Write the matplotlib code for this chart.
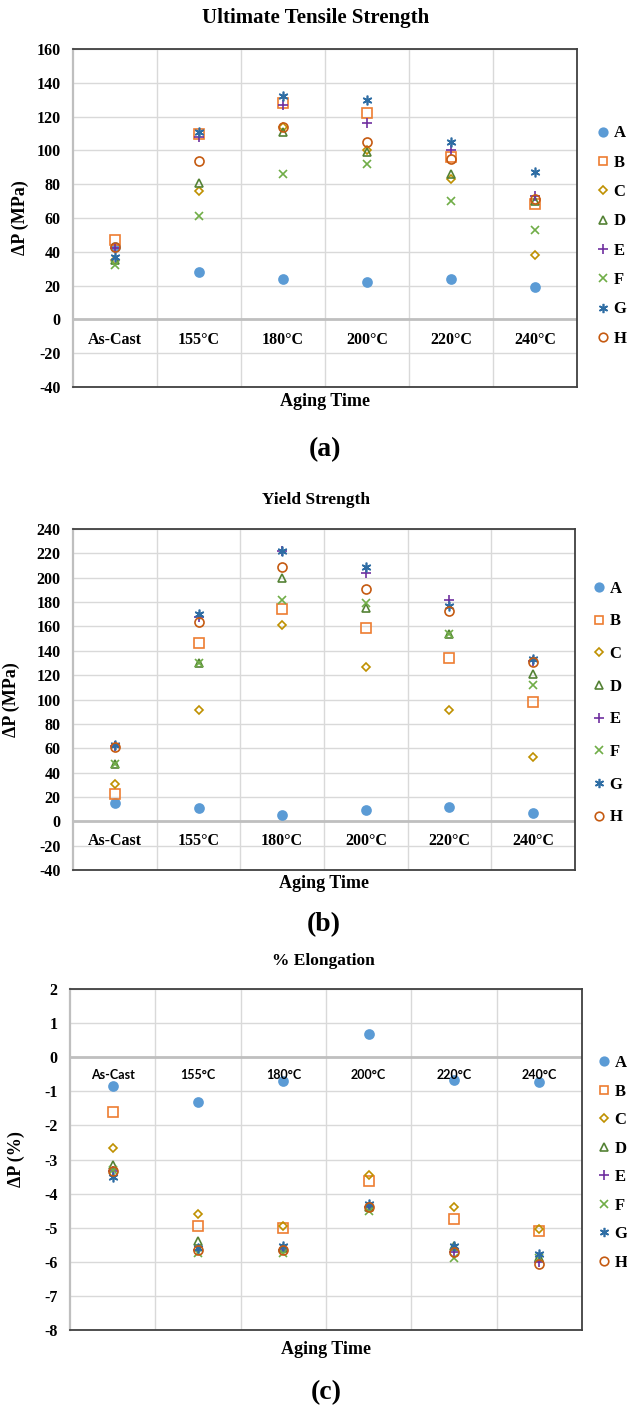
import matplotlib.pyplot as plt
import matplotlib.lines as mlines

categories = ['As-Cast', '155°C', '180°C', '200°C', '220°C', '240°C']
series = ['A', 'B', 'C', 'D', 'E', 'F', 'G', 'H']

# Ultimate Tensile Strength (MPa)
uts = {
    'A': [43, 28, 24, 22, 24, 19],
    'B': [47, 110, 128, 122, 96, 68],
    'C': [35, 76, 114, 100, 83, 38],
    'D': [35, 81, 111, 99, 86, 70],
    'E': [42, 108, 127, 116, 100, 73],
    'F': [32, 61, 86, 92, 70, 53],
    'G': [37, 111, 132, 130, 105, 87],
    'H': [43, 94, 114, 105, 95, 71],
}

# Yield Strength (MPa)
ys = {
    'A': [15, 11, 5, 9, 12, 7],
    'B': [22, 146, 174, 159, 134, 98],
    'C': [31, 91, 161, 127, 91, 53],
    'D': [47, 130, 200, 175, 154, 121],
    'E': [62, 168, 222, 204, 182, 132],
    'F': [47, 130, 182, 179, 154, 112],
    'G': [63, 170, 222, 209, 177, 133],
    'H': [61, 164, 209, 191, 173, 131],
}

# % Elongation
elong = {
    'A': [-0.85, -1.32, -0.70, 0.67, -0.67, -0.72],
    'B': [-1.60, -4.95, -5.00, -3.62, -4.75, -5.10],
    'C': [-2.65, -4.60, -4.95, -3.45, -4.40, -5.05],
    'D': [-3.15, -5.40, -5.60, -4.40, -5.55, -5.85],
    'E': [-3.35, -5.65, -5.65, -4.40, -5.70, -6.00],
    'F': [-3.30, -5.75, -5.75, -4.50, -5.90, -5.90],
    'G': [-3.50, -5.60, -5.55, -4.30, -5.55, -5.78],
    'H': [-3.35, -5.65, -5.65, -4.40, -5.70, -6.05],
}

# marker styles, Excel-like
styles = {
    'A': dict(marker='o', color='#5B9BD5', mfc='#5B9BD5', ms=6.5),
    'B': dict(marker='s', color='#ED7D31', mfc='none', ms=6.5),
    'C': dict(marker='D', color='#BF9000', mfc='none', ms=4.5),
    'D': dict(marker='^', color='#548235', mfc='none', ms=6),
    'E': dict(marker='+', color='#7030A0', mfc='none', ms=7),
    'F': dict(marker='x', color='#70AD47', mfc='none', ms=6),
    'G': dict(marker=(6, 2, 0), color='#2E6DA4', mfc='none', ms=7),
    'H': dict(marker='o', color='#C55A11', mfc='none', ms=6.5),
}

serif = 'Liberation Serif'
plt.rcParams['font.family'] = [serif, 'DejaVu Serif']

fig = plt.figure(figsize=(6.27, 14.1), dpi=100)
W, H = 627.0, 1410.0


def make_axes(left, right, top, bottom):
    return fig.add_axes([left / W, 1 - bottom / H, (right - left) / W, (bottom - top) / H])


def draw_panel(ax, data, ylim, ystep, ylabel, title, title_xy, title_size,
               xlabel_y, tag, tag_y, ylabel_x, cat_offset, cat_font, cat_size,
               leg_left, leg_cy, leg_space):
    for s in series:
        st = styles[s]
        ax.plot(range(len(categories)), data[s], linestyle='none', marker=st['marker'],
                color=st['color'], mfc=st['mfc'], ms=st['ms'], mew=1.2, label=s, zorder=3)
    ax.set_xlim(-0.5, len(categories) - 0.5)
    ax.set_ylim(*ylim)
    yt = [ylim[0] + i * ystep for i in range(int(round((ylim[1] - ylim[0]) / ystep)) + 1)]
    ax.set_yticks(yt)
    ax.set_yticklabels([('%g' % v) for v in yt], fontsize=11.5, fontweight='bold')
    ax.tick_params(axis='y', length=0, pad=9)
    ax.set_xticks([])
    for v in yt:
        ax.axhline(v, color='#d9d9d9', lw=1, zorder=1)
    for i in range(1, len(categories)):
        ax.axvline(i - 0.5, color='#d9d9d9', lw=1, zorder=1)
    ax.axhline(0, color='#bfbfbf', lw=2, zorder=2)
    for side in ['top', 'right', 'bottom']:
        ax.spines[side].set_color('#404040')
        ax.spines[side].set_linewidth(1.3)
    ax.spines['left'].set_color('#bfbfbf')
    ax.spines['left'].set_linewidth(1.6)
    for i, c in enumerate(categories):
        ax.annotate(c, xy=(i, 0), xytext=(0, -cat_offset), textcoords='offset points',
                    ha='center', va='center', fontsize=cat_size, fontweight='bold',
                    family=cat_font)
    fig.text(ylabel_x / W, ax.get_position().y0 + ax.get_position().height / 2, ylabel,
             rotation=90, ha='center', va='center', fontsize=13, fontweight='bold')
    cx = ax.get_position().x0 + ax.get_position().width / 2
    fig.text(title_xy[0] / W, 1 - title_xy[1] / H, title, ha='center', va='center',
             fontsize=title_size, fontweight='bold')
    fig.text(cx, 1 - xlabel_y / H, 'Aging Time', ha='center', va='center',
             fontsize=13, fontweight='bold')
    fig.text(cx, 1 - tag_y / H, tag, ha='center', va='center',
             fontsize=20, fontweight='bold')
    handles = [mlines.Line2D([], [], linestyle='none', marker=styles[s]['marker'],
                             color=styles[s]['color'], mfc=styles[s]['mfc'],
                             ms=styles[s]['ms'] * 0.95, mew=1.2) for s in series]
    ax.legend(handles, series, loc='center left',
              bbox_to_anchor=(leg_left / W, 1 - leg_cy / H),
              bbox_transform=fig.transFigure, frameon=False, borderpad=0,
              borderaxespad=0, handlelength=0.8, handletextpad=0.25,
              labelspacing=leg_space,
              prop={'family': serif, 'weight': 'bold', 'size': 12})


ax1 = make_axes(73, 577, 49, 387)
draw_panel(ax1, uts, (-40, 160), 20, 'ΔP (MPa)', 'Ultimate Tensile Strength', (316, 18), 15,
           401, '(a)', 450, 20, 15, [serif], 11.5, 596, 236, 0.8)

ax2 = make_axes(73, 575, 529, 870)
draw_panel(ax2, ys, (-40, 240), 20, 'ΔP (MPa)', 'Yield Strength', (316, 500), 12.5,
           884, '(b)', 925, 11, 14.4, [serif], 11.5, 592, 703, 1.0)

ax3 = make_axes(70, 582, 989, 1330)
draw_panel(ax3, elong, (-8, 2), 1, 'ΔP (%)', '% Elongation', (323, 961), 12.5,
           1349, '(c)', 1393, 16, 13, ['Lato', 'DejaVu Sans'], 9, 597, 1163, 0.75)

fig.savefig('out.png', dpi=100)
